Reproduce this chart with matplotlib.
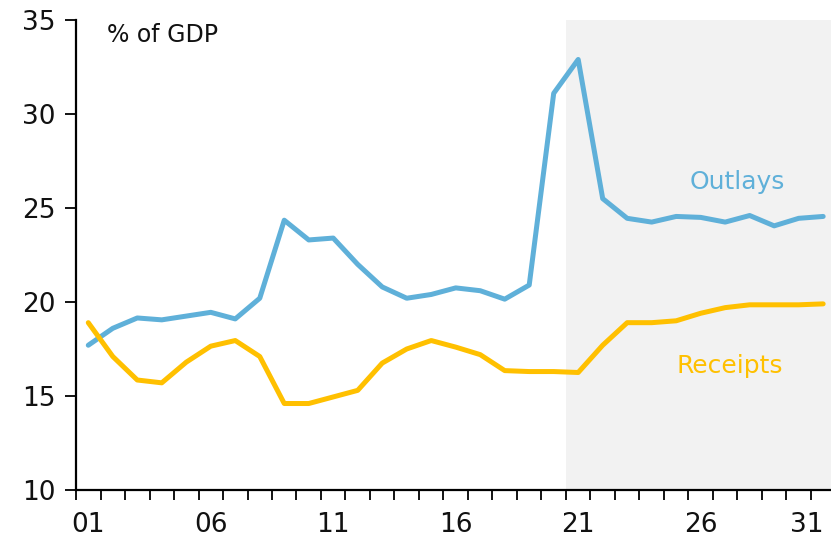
import numpy as np
import matplotlib.pyplot as plt
from matplotlib.ticker import FixedLocator

years = list(range(2001, 2032))

outlays = [17.7, 18.6, 19.15, 19.05, 19.25, 19.45, 19.1, 20.2, 24.35, 23.3,
           23.4, 22.0, 20.8, 20.2, 20.4, 20.75, 20.6, 20.15, 20.9, 31.1,
           32.9, 25.5, 24.45, 24.25, 24.55, 24.5, 24.25, 24.6, 24.05, 24.45,
           24.55]

receipts = [18.9, 17.1, 15.85, 15.7, 16.8, 17.65, 17.95, 17.1, 14.6, 14.6,
            14.95, 15.3, 16.75, 17.5, 17.95, 17.6, 17.2, 16.35, 16.3, 16.3,
            16.25, 17.7, 18.9, 18.9, 19.0, 19.4, 19.7, 19.85, 19.85, 19.85,
            19.9]

tick_years = [2001, 2006, 2011, 2016, 2021, 2026, 2031]
tick_labels = ["01", "06", "11", "16", "21", "26", "31"]
forecast_start = 2020.5

plt.rcParams['font.family'] = ['DejaVu Sans']

fig = plt.figure(figsize=(8.31, 5.40), dpi=100)
ax = fig.add_axes([0.0915, 0.0926, 0.9085, 0.8704])

blue = "#5fb0d9"
gold = "#ffc000"

ax.axvspan(forecast_start, 2032, color="#f2f2f2", zorder=0, lw=0)
ax.plot(years, outlays, color=blue, lw=3.6, solid_capstyle="round", zorder=3)
ax.plot(years, receipts, color=gold, lw=3.6, solid_capstyle="round", zorder=3)

ax.set_xlim(2000.5, 2031.32)
ax.set_ylim(10, 35)
ax.set_yticks([10, 15, 20, 25, 30, 35])

ax.set_xticks(tick_years)
ax.set_xticklabels(tick_labels)
ax.get_xticklabels()[-1].set_ha("right")
ax.xaxis.set_minor_locator(FixedLocator(np.arange(2000.5, 2032, 1)))
ax.tick_params(axis="x", which="major", length=0, pad=16, labelsize=19, labelcolor="#111111")
ax.tick_params(axis="x", which="minor", length=7, width=1.3, direction="out")
ax.tick_params(axis="y", length=8, width=1.3, direction="out", pad=7, labelsize=19, labelcolor="#111111")

for s in ["top", "right"]:
    ax.spines[s].set_visible(False)
for s in ["left", "bottom"]:
    ax.spines[s].set_linewidth(1.6)

ax.text(0.041, 0.993, "% of GDP", transform=ax.transAxes, fontsize=17,
        va="top", ha="left", color="#111111")
ax.text(2027.5, 26.4, "Outlays", color=blue, fontsize=18, ha="center", va="center")
ax.text(2027.2, 16.6, "Receipts", color=gold, fontsize=18, ha="center", va="center")

fig.savefig("out.png", dpi=100)
